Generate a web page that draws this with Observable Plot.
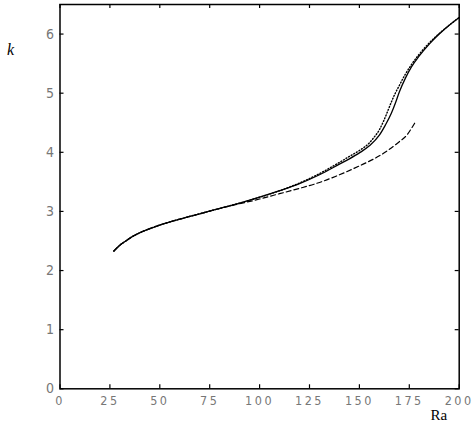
<!DOCTYPE html>
<html>
<head>
<meta charset="utf-8">
<script src="https://cdn.jsdelivr.net/npm/d3@7"></script>
<script src="https://cdn.jsdelivr.net/npm/@observablehq/plot@0.6"></script>
<style>
  html, body { margin: 0; padding: 0; background: #fff; }
  #chart svg g[aria-label="x-axis tick label"] text { letter-spacing: 2.5px; }
</style>
</head>
<body>
<div id="chart"></div>
<script>
// Solid curve
const solidRa = [27, 30, 33, 36, 40, 45, 50, 60, 70, 80, 90, 100, 110, 120, 130, 140, 145, 150, 155, 160, 163, 166, 168, 170, 173, 176, 180, 185, 190, 195, 200];
const solidK  = [2.33, 2.43, 2.50, 2.57, 2.64, 2.71, 2.77, 2.87, 2.96, 3.05, 3.14, 3.24, 3.35, 3.47, 3.62, 3.80, 3.89, 3.99, 4.11, 4.29, 4.46, 4.66, 4.83, 5.02, 5.25, 5.44, 5.63, 5.83, 6.00, 6.15, 6.28];
// Dotted curve
const dottedRa = [27, 30, 33, 36, 40, 45, 50, 60, 70, 80, 90, 100, 110, 120, 130, 140, 145, 150, 155, 157, 160, 162, 164, 166, 168, 170, 173, 176, 180, 185, 190, 195, 200];
const dottedK  = [2.33, 2.43, 2.50, 2.57, 2.64, 2.71, 2.77, 2.87, 2.96, 3.05, 3.14, 3.24, 3.35, 3.48, 3.64, 3.83, 3.93, 4.03, 4.16, 4.24, 4.38, 4.52, 4.68, 4.85, 5.00, 5.13, 5.32, 5.48, 5.66, 5.85, 6.01, 6.15, 6.28];
// Dashed curve
const dashedRa = [27, 30, 33, 36, 40, 45, 50, 60, 70, 80, 90, 100, 110, 120, 130, 140, 150, 160, 165, 170, 174, 176, 178];
const dashedK  = [2.33, 2.43, 2.50, 2.57, 2.64, 2.71, 2.77, 2.87, 2.96, 3.05, 3.13, 3.21, 3.30, 3.39, 3.49, 3.62, 3.77, 3.94, 4.05, 4.18, 4.30, 4.40, 4.51];

const xTicks = [0, 25, 50, 75, 100, 125, 150, 175, 200];
const yTicks = [0, 1, 2, 3, 4, 5, 6];

const toRows = (xs, ys) => xs.map((x, i) => ({Ra: x, k: ys[i]}));
const solid = toRows(solidRa, solidK);
const dotted = toRows(dottedRa, dottedK);
const dashed = toRows(dashedRa, dashedK);

const W = 474, H = 433;
const mL = 59.5, mR = 15.3, mT = 4, mB = 44.7;
const innerW = W - mL - mR, innerH = H - mT - mB;
const tickLen = 4;
const tickFont = "'Liberation Sans Narrow', 'DejaVu Sans Condensed', sans-serif";

const chart = Plot.plot({
  width: W,
  height: H,
  marginLeft: mL,
  marginRight: mR,
  marginTop: mT,
  marginBottom: mB,
  style: {background: "#fff", overflow: "visible"},
  x: {domain: [0, 200]},
  y: {domain: [0, 6.5]},
  marks: [
    // inward ticks
    Plot.tickX(xTicks, {x: d => d, insetTop: innerH - tickLen, stroke: "#000", strokeWidth: 1.2}),
    Plot.tickX(xTicks, {x: d => d, insetBottom: innerH - tickLen, stroke: "#000", strokeWidth: 1.2}),
    Plot.tickY(yTicks, {y: d => d, insetRight: innerW - tickLen, stroke: "#000", strokeWidth: 1.2}),
    Plot.tickY(yTicks, {y: d => d, insetLeft: innerW - tickLen, stroke: "#000", strokeWidth: 1.2}),
    Plot.axisX(xTicks, {anchor: "bottom", tickSize: 0, tickPadding: 7, label: null, tickFormat: "d", fontSize: 12.5, fill: "#777", fontFamily: tickFont}),
    Plot.axisY(yTicks, {anchor: "left", tickSize: 0, tickPadding: 6, label: null, tickFormat: "d", fontSize: 14, fill: "#777", fontFamily: tickFont}),
    Plot.line(dotted, {x: "Ra", y: "k", stroke: "#000", strokeWidth: 1.4, strokeDasharray: "1,2", curve: "monotone-x"}),
    Plot.line(dashed, {x: "Ra", y: "k", stroke: "#000", strokeWidth: 1.2, strokeDasharray: "5,3", curve: "monotone-x"}),
    Plot.line(solid, {x: "Ra", y: "k", stroke: "#000", strokeWidth: 1.3, curve: "monotone-x"}),
    Plot.frame({stroke: "#000", strokeWidth: 1.5}),
    Plot.text(["Ra"], {frameAnchor: "bottom-right", dx: -12, dy: 31, text: d => d, fontSize: 15, fontFamily: "'Liberation Serif', serif", fill: "#000", textAnchor: "end"}),
    Plot.text(["k"], {frameAnchor: "top-left", dx: -53, dy: 39, text: d => d, fontSize: 16, fontStyle: "italic", fontFamily: "'Liberation Serif', serif", fill: "#000", textAnchor: "start"})
  ]
});
document.getElementById("chart").appendChild(chart);
</script>
</body>
</html>
